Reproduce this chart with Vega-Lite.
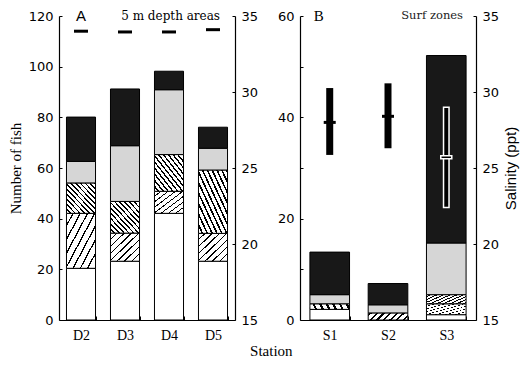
{
  "$schema": "https://vega.github.io/schema/vega-lite/v6.json",
  "padding": {"left": 8, "top": 9, "right": 6, "bottom": 6},
  "spacing": 65,
  "bounds": "flush",
  "title": {"text": "Station", "orient": "bottom", "anchor": "middle", "font": "Liberation Serif", "fontSize": 15, "fontWeight": "normal", "color": "black", "offset": 2, "dx": 8},
  "config": {
    "view": {"stroke": null},
    "axis": {"domainColor": "black", "tickColor": "black", "labelColor": "black", "titleColor": "black", "grid": false, "labelFont": "DejaVu Sans", "labelFontSize": 13, "titleFont": "Liberation Serif", "titleFontSize": 15, "titleFontWeight": "normal", "domainWidth": 1.2, "tickWidth": 1, "labelOverlap": false, "labelBound": false, "labelFlush": false}
  },
  "datasets": {
    "countsA": [
      {"station": "D2", "cat": "g1", "low": 0, "high": 20.4},
      {"station": "D2", "cat": "g2", "low": 20.4, "high": 42.1},
      {"station": "D2", "cat": "g3", "low": 42.1, "high": 54.1},
      {"station": "D2", "cat": "g4", "low": 54.1, "high": 62.6},
      {"station": "D2", "cat": "g5", "low": 62.6, "high": 80.1},
      {"station": "D3", "cat": "g1", "low": 0, "high": 23.2},
      {"station": "D3", "cat": "g2", "low": 23.2, "high": 34.3},
      {"station": "D3", "cat": "g3", "low": 34.3, "high": 46.8},
      {"station": "D3", "cat": "g4", "low": 46.8, "high": 68.8},
      {"station": "D3", "cat": "g5", "low": 68.8, "high": 91.2},
      {"station": "D4", "cat": "g1", "low": 0, "high": 42.1},
      {"station": "D4", "cat": "g2", "low": 42.1, "high": 50.8},
      {"station": "D4", "cat": "g3", "low": 50.8, "high": 65.3},
      {"station": "D4", "cat": "g4", "low": 65.3, "high": 90.9},
      {"station": "D4", "cat": "g5", "low": 90.9, "high": 98.2},
      {"station": "D5", "cat": "g1", "low": 0, "high": 23.2},
      {"station": "D5", "cat": "g2", "low": 23.2, "high": 34.2},
      {"station": "D5", "cat": "g3", "low": 34.2, "high": 59.2},
      {"station": "D5", "cat": "g4", "low": 59.2, "high": 67.8},
      {"station": "D5", "cat": "g5", "low": 67.8, "high": 76.1}
    ],
    "salA": [
      {"station": "D2", "sal": 34.0},
      {"station": "D3", "sal": 33.95},
      {"station": "D4", "sal": 33.95},
      {"station": "D5", "sal": 34.1}
    ],
    "countsB": [
      {"station": "S1", "cat": "g1", "low": 0, "high": 2.1},
      {"station": "S1", "cat": "g3", "low": 2.1, "high": 3.2},
      {"station": "S1", "cat": "g4", "low": 3.2, "high": 5.0},
      {"station": "S1", "cat": "g5", "low": 5.0, "high": 13.4},
      {"station": "S2", "cat": "g3", "low": 0, "high": 1.4},
      {"station": "S2", "cat": "g4", "low": 1.4, "high": 3.0},
      {"station": "S2", "cat": "g5", "low": 3.0, "high": 7.2},
      {"station": "S3", "cat": "g1", "low": 0, "high": 1.05},
      {"station": "S3", "cat": "g2", "low": 1.05, "high": 3.2},
      {"station": "S3", "cat": "g3", "low": 3.2, "high": 5.0},
      {"station": "S3", "cat": "g4", "low": 5.0, "high": 15.2},
      {"station": "S3", "cat": "g5", "low": 15.2, "high": 52.2}
    ],
    "salB": [
      {"station": "S1", "lo": 25.86, "hi": 30.26, "mean": 28.0},
      {"station": "S2", "lo": 26.3, "hi": 30.57, "mean": 28.4},
      {"station": "S3", "lo": 22.4, "hi": 29.0, "mean": 25.7}
    ]
  },
  "hconcat": [
    {
      "width": 176,
      "height": 304,
      "layer": [
        {
          "layer": [
            {
              "data": {"name": "countsA"},
              "mark": {"type": "bar", "stroke": "black", "strokeWidth": 1},
              "encoding": {
                "x": {"field": "station", "type": "nominal", "scale": {"paddingInner": 0.34, "paddingOuter": 0.17}, "axis": {"title": null, "labelAngle": 0, "labelFont": "Liberation Serif", "labelFontSize": 14, "tickBand": "extent", "tickSize": -4, "labelPadding": 12}},
                "y": {"field": "low", "type": "quantitative", "scale": {"domain": [0, 120], "nice": false}, "axis": {"title": "Number of fish", "values": [0, 10, 20, 30, 40, 50, 60, 70, 80, 90, 100, 110, 120], "labelExpr": "datum.value % 20 == 0 ? datum.label : ''", "tickSize": -3, "labelPadding": 9, "titlePadding": 5}},
                "y2": {"field": "high"},
                "fill": {"condition": [
                  {"test": "datum.cat === 'g1'", "value": "white"},
                  {"test": "datum.cat === 'g2'", "value": {"gradient": "linear", "x1": 0, "y1": 0, "x2": 1, "y2": 1, "stops": [
                    {"offset": 0, "color": "white"}, {"offset": 0.1, "color": "white"}, {"offset": 0.1, "color": "black"}, {"offset": 0.125, "color": "black"},
                    {"offset": 0.125, "color": "white"}, {"offset": 0.225, "color": "white"}, {"offset": 0.225, "color": "black"}, {"offset": 0.25, "color": "black"},
                    {"offset": 0.25, "color": "white"}, {"offset": 0.35, "color": "white"}, {"offset": 0.35, "color": "black"}, {"offset": 0.375, "color": "black"},
                    {"offset": 0.375, "color": "white"}, {"offset": 0.475, "color": "white"}, {"offset": 0.475, "color": "black"}, {"offset": 0.5, "color": "black"},
                    {"offset": 0.5, "color": "white"}, {"offset": 0.6, "color": "white"}, {"offset": 0.6, "color": "black"}, {"offset": 0.625, "color": "black"},
                    {"offset": 0.625, "color": "white"}, {"offset": 0.725, "color": "white"}, {"offset": 0.725, "color": "black"}, {"offset": 0.75, "color": "black"},
                    {"offset": 0.75, "color": "white"}, {"offset": 0.85, "color": "white"}, {"offset": 0.85, "color": "black"}, {"offset": 0.875, "color": "black"},
                    {"offset": 0.875, "color": "white"}, {"offset": 0.975, "color": "white"}, {"offset": 0.975, "color": "black"}, {"offset": 1, "color": "black"}
                  ]}},
                  {"test": "datum.cat === 'g3'", "value": {"gradient": "linear", "x1": 0, "y1": 1, "x2": 1, "y2": 0, "stops": [
                    {"offset": 0, "color": "white"}, {"offset": 0.054, "color": "white"}, {"offset": 0.054, "color": "black"}, {"offset": 0.0833, "color": "black"},
                    {"offset": 0.0833, "color": "white"}, {"offset": 0.1373, "color": "white"}, {"offset": 0.1373, "color": "black"}, {"offset": 0.1667, "color": "black"},
                    {"offset": 0.1667, "color": "white"}, {"offset": 0.2207, "color": "white"}, {"offset": 0.2207, "color": "black"}, {"offset": 0.25, "color": "black"},
                    {"offset": 0.25, "color": "white"}, {"offset": 0.304, "color": "white"}, {"offset": 0.304, "color": "black"}, {"offset": 0.3333, "color": "black"},
                    {"offset": 0.3333, "color": "white"}, {"offset": 0.3873, "color": "white"}, {"offset": 0.3873, "color": "black"}, {"offset": 0.4167, "color": "black"},
                    {"offset": 0.4167, "color": "white"}, {"offset": 0.4707, "color": "white"}, {"offset": 0.4707, "color": "black"}, {"offset": 0.5, "color": "black"},
                    {"offset": 0.5, "color": "white"}, {"offset": 0.554, "color": "white"}, {"offset": 0.554, "color": "black"}, {"offset": 0.5833, "color": "black"},
                    {"offset": 0.5833, "color": "white"}, {"offset": 0.6373, "color": "white"}, {"offset": 0.6373, "color": "black"}, {"offset": 0.6667, "color": "black"},
                    {"offset": 0.6667, "color": "white"}, {"offset": 0.7207, "color": "white"}, {"offset": 0.7207, "color": "black"}, {"offset": 0.75, "color": "black"},
                    {"offset": 0.75, "color": "white"}, {"offset": 0.804, "color": "white"}, {"offset": 0.804, "color": "black"}, {"offset": 0.8333, "color": "black"},
                    {"offset": 0.8333, "color": "white"}, {"offset": 0.8873, "color": "white"}, {"offset": 0.8873, "color": "black"}, {"offset": 0.9167, "color": "black"},
                    {"offset": 0.9167, "color": "white"}, {"offset": 0.9707, "color": "white"}, {"offset": 0.9707, "color": "black"}, {"offset": 1, "color": "black"}
                  ]}},
                  {"test": "datum.cat === 'g4'", "value": "#d6d6d6"}
                ], "value": "#181818"}
              }
            },
            {
              "data": {"values": [{"label": "A"}]},
              "mark": {"type": "text", "font": "Liberation Sans", "fontSize": 15, "baseline": "middle", "align": "center", "color": "black"},
              "encoding": {
                "x": {"datum": "D2", "type": "nominal"},
                "y": {"datum": 120, "type": "quantitative"},
                "text": {"field": "label"}
              }
            },
            {
              "data": {"values": [{"label": "5 m depth areas"}]},
              "mark": {"type": "text", "font": "DejaVu Serif", "fontSize": 12, "baseline": "middle", "align": "right", "dx": -15, "color": "black"},
              "encoding": {
                "x": {"value": "width"},
                "y": {"datum": 120, "type": "quantitative"},
                "text": {"field": "label"}
              }
            }
          ]
        },
        {
          "data": {"name": "salA"},
          "mark": {"type": "tick", "fill": "black", "opacity": 1, "thickness": 3, "size": 14, "orient": "horizontal"},
          "encoding": {
            "x": {"field": "station", "type": "nominal"},
            "y": {"field": "sal", "type": "quantitative", "scale": {"domain": [15, 35], "nice": false}, "axis": {"orient": "right", "title": null, "values": [15, 20, 25, 30, 35], "tickSize": -3, "labelPadding": 9}}
          }
        }
      ],
      "resolve": {"scale": {"y": "independent"}}
    },
    {
      "width": 176,
      "height": 304,
      "layer": [
        {
          "layer": [
            {
              "data": {"name": "countsB"},
              "mark": {"type": "bar", "stroke": "black", "strokeWidth": 1},
              "encoding": {
                "x": {"field": "station", "type": "nominal", "scale": {"paddingInner": 0.32, "paddingOuter": 0.17}, "axis": {"title": null, "labelAngle": 0, "labelFont": "Liberation Serif", "labelFontSize": 14, "tickBand": "extent", "tickSize": -4, "labelPadding": 12}},
                "y": {"field": "low", "type": "quantitative", "scale": {"domain": [0, 60], "nice": false}, "axis": {"title": null, "values": [0, 10, 20, 30, 40, 50, 60], "labelExpr": "datum.value % 20 == 0 ? datum.label : ''", "tickSize": -3, "labelPadding": 9}},
                "y2": {"field": "high"},
                "fill": {"condition": [
                  {"test": "datum.cat === 'g1'", "value": "white"},
                  {"test": "datum.cat === 'g2'", "value": {"gradient": "linear", "x1": 0, "y1": 0, "x2": 1, "y2": 1, "stops": [
                    {"offset": 0, "color": "white"}, {"offset": 0.1, "color": "white"}, {"offset": 0.1, "color": "black"}, {"offset": 0.125, "color": "black"},
                    {"offset": 0.125, "color": "white"}, {"offset": 0.225, "color": "white"}, {"offset": 0.225, "color": "black"}, {"offset": 0.25, "color": "black"},
                    {"offset": 0.25, "color": "white"}, {"offset": 0.35, "color": "white"}, {"offset": 0.35, "color": "black"}, {"offset": 0.375, "color": "black"},
                    {"offset": 0.375, "color": "white"}, {"offset": 0.475, "color": "white"}, {"offset": 0.475, "color": "black"}, {"offset": 0.5, "color": "black"},
                    {"offset": 0.5, "color": "white"}, {"offset": 0.6, "color": "white"}, {"offset": 0.6, "color": "black"}, {"offset": 0.625, "color": "black"},
                    {"offset": 0.625, "color": "white"}, {"offset": 0.725, "color": "white"}, {"offset": 0.725, "color": "black"}, {"offset": 0.75, "color": "black"},
                    {"offset": 0.75, "color": "white"}, {"offset": 0.85, "color": "white"}, {"offset": 0.85, "color": "black"}, {"offset": 0.875, "color": "black"},
                    {"offset": 0.875, "color": "white"}, {"offset": 0.975, "color": "white"}, {"offset": 0.975, "color": "black"}, {"offset": 1, "color": "black"}
                  ]}},
                  {"test": "datum.cat === 'g3'", "value": {"gradient": "linear", "x1": 0, "y1": 1, "x2": 1, "y2": 0, "stops": [
                    {"offset": 0, "color": "white"}, {"offset": 0.054, "color": "white"}, {"offset": 0.054, "color": "black"}, {"offset": 0.0833, "color": "black"},
                    {"offset": 0.0833, "color": "white"}, {"offset": 0.1373, "color": "white"}, {"offset": 0.1373, "color": "black"}, {"offset": 0.1667, "color": "black"},
                    {"offset": 0.1667, "color": "white"}, {"offset": 0.2207, "color": "white"}, {"offset": 0.2207, "color": "black"}, {"offset": 0.25, "color": "black"},
                    {"offset": 0.25, "color": "white"}, {"offset": 0.304, "color": "white"}, {"offset": 0.304, "color": "black"}, {"offset": 0.3333, "color": "black"},
                    {"offset": 0.3333, "color": "white"}, {"offset": 0.3873, "color": "white"}, {"offset": 0.3873, "color": "black"}, {"offset": 0.4167, "color": "black"},
                    {"offset": 0.4167, "color": "white"}, {"offset": 0.4707, "color": "white"}, {"offset": 0.4707, "color": "black"}, {"offset": 0.5, "color": "black"},
                    {"offset": 0.5, "color": "white"}, {"offset": 0.554, "color": "white"}, {"offset": 0.554, "color": "black"}, {"offset": 0.5833, "color": "black"},
                    {"offset": 0.5833, "color": "white"}, {"offset": 0.6373, "color": "white"}, {"offset": 0.6373, "color": "black"}, {"offset": 0.6667, "color": "black"},
                    {"offset": 0.6667, "color": "white"}, {"offset": 0.7207, "color": "white"}, {"offset": 0.7207, "color": "black"}, {"offset": 0.75, "color": "black"},
                    {"offset": 0.75, "color": "white"}, {"offset": 0.804, "color": "white"}, {"offset": 0.804, "color": "black"}, {"offset": 0.8333, "color": "black"},
                    {"offset": 0.8333, "color": "white"}, {"offset": 0.8873, "color": "white"}, {"offset": 0.8873, "color": "black"}, {"offset": 0.9167, "color": "black"},
                    {"offset": 0.9167, "color": "white"}, {"offset": 0.9707, "color": "white"}, {"offset": 0.9707, "color": "black"}, {"offset": 1, "color": "black"}
                  ]}},
                  {"test": "datum.cat === 'g4'", "value": "#d6d6d6"}
                ], "value": "#181818"}
              }
            },
            {
              "data": {"values": [{"label": "B"}]},
              "mark": {"type": "text", "font": "Liberation Serif", "fontSize": 15, "baseline": "middle", "align": "center", "dx": -11, "color": "black"},
              "encoding": {
                "x": {"datum": "S1", "type": "nominal"},
                "y": {"datum": 60, "type": "quantitative"},
                "text": {"field": "label"}
              }
            },
            {
              "data": {"values": [{"label": "Surf zones"}]},
              "mark": {"type": "text", "font": "DejaVu Serif", "fontSize": 11.5, "baseline": "middle", "align": "right", "dx": -13, "color": "#222"},
              "encoding": {
                "x": {"value": "width"},
                "y": {"datum": 60, "type": "quantitative"},
                "text": {"field": "label"}
              }
            }
          ]
        },
        {
          "data": {"name": "salB"},
          "encoding": {
            "x": {"field": "station", "type": "nominal"}
          },
          "layer": [
            {
              "mark": {"type": "bar", "fill": "black", "strokeWidth": 1.5},
              "encoding": {
                "y": {"field": "lo", "type": "quantitative", "scale": {"domain": [15, 35], "nice": false}, "axis": {"orient": "right", "title": "Salinity (ppt)", "titleFont": "Liberation Sans", "titleAngle": 270, "titleBaseline": "top", "values": [15, 20, 25, 30, 35], "tickSize": -3, "labelPadding": 9, "titlePadding": 5}},
                "y2": {"field": "hi"},
                "size": {"condition": {"test": "datum.station === 'S3'", "value": 5.5}, "value": 7},
                "stroke": {"condition": {"test": "datum.station === 'S3'", "value": "white"}, "value": null}
              }
            },
            {
              "mark": {"type": "tick", "fill": "black", "opacity": 1, "thickness": 3, "strokeWidth": 1.5, "orient": "horizontal"},
              "encoding": {
                "y": {"field": "mean", "type": "quantitative"},
                "size": {"condition": {"test": "datum.station === 'S3'", "value": 11}, "value": 12},
                "stroke": {"condition": {"test": "datum.station === 'S3'", "value": "white"}, "value": null}
              }
            }
          ]
        }
      ],
      "resolve": {"scale": {"y": "independent"}}
    }
  ]
}
